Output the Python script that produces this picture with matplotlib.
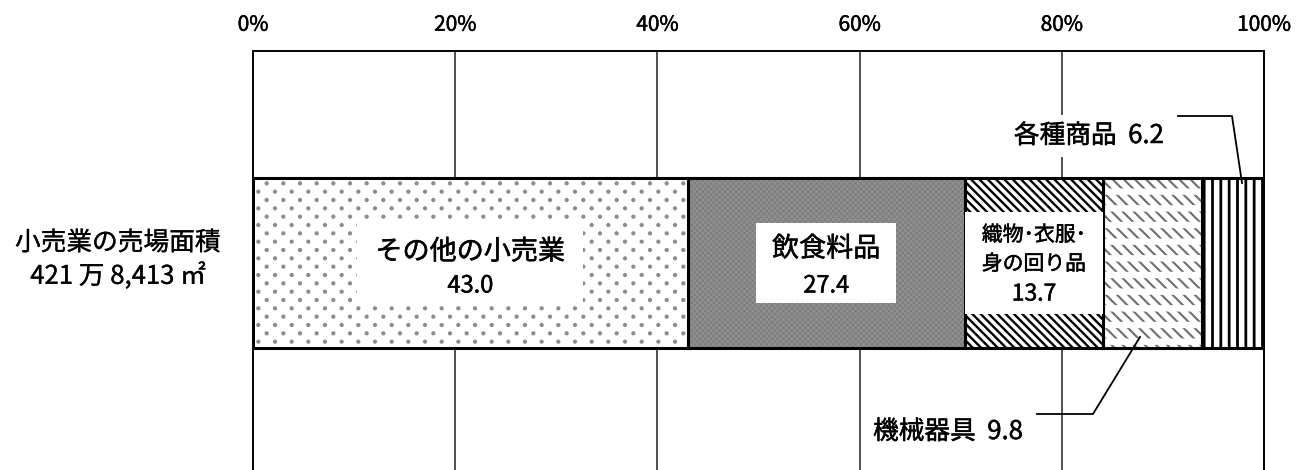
import matplotlib
matplotlib.use("Agg")
import numpy as np
import matplotlib.pyplot as plt
import matplotlib.hatch as mhatch
import matplotlib.patheffects as pe
from matplotlib.patches import Rectangle

plt.rcParams['font.family'] = ['Noto Sans CJK JP', 'DejaVu Sans']

# ---- data ----
categories = ["その他の小売業", "飲食料品", "織物･衣服･\n身の回り品", "機械器具", "各種商品"]
values = [43.0, 27.4, 13.7, 9.8, 6.2]
row_label = "小売業の売場面積\n421 万 8,413 ㎡"
xticks = [0, 20, 40, 60, 80, 100]
xtick_labels = ["0%", "20%", "40%", "60%", "80%", "100%"]


# ---- dotted texture: staggered dots, rows twice as dense as columns ----
class RowDots(mhatch.SmallFilledCircles):
    def __init__(self, hatch, density):
        super().__init__(hatch, density)
        n = self.num_rows
        if n:
            cnt = sum((n + 1) if r % 2 == 0 else n for r in range(2 * n + 1))
            self.num_vertices = cnt * len(self.shape_vertices)

    def set_vertices_and_codes(self, vertices, codes):
        n = self.num_rows
        offset = 1.0 / n
        sv = self.shape_vertices * offset * self.size * 0.85
        sc = self.shape_codes
        nv = len(sv)
        cur = 0
        for r in range(2 * n + 1):
            if r % 2 == 0:
                cols = np.linspace(0, 1, n + 1)
            else:
                cols = np.linspace(offset / 2, 1 - offset / 2, n)
            for c in cols:
                vertices[cur:cur + nv] = sv + (c, r * offset / 2)
                codes[cur:cur + nv] = sc
                cur += nv


mhatch._hatch_types = [RowDots if t is mhatch.SmallFilledCircles else t
                       for t in mhatch._hatch_types]

# ---- styles ----
face = ['white', '#909090', 'white', 'white', 'white']
hatch = ['.', 'xxxxxx', '\\\\\\\\', '\\\\\\', '||']
hcol = ['#8c8c8c', '#787878', 'black', '#6e6e6e', 'black']
hlw = [1.0, 0.5, 1.7, 1.5, 2.0]

W, H = 1302, 470
fig = plt.figure(figsize=(W / 100, H / 100), dpi=100)
ax_left, ax_right, ax_top, ax_bot = 253, 1264, 51, 470
ax = fig.add_axes([ax_left / W, 1 - ax_bot / H, (ax_right - ax_left) / W, (ax_bot - ax_top) / H])
ax.set_xlim(0, 100)
ax.set_ylim(ax_bot, ax_top)  # y in pixel rows

stroke = [pe.withStroke(linewidth=0.35, foreground='black')]

bar_y, bar_h = 263, 170
left = 0
lefts = []
for i, (v, fc, hp, hc, lw) in enumerate(zip(values, face, hatch, hcol, hlw)):
    with plt.rc_context({'hatch.linewidth': lw}):
        ax.barh(bar_y, v, left=left, height=bar_h, color=fc, hatch=hp,
                edgecolor=hc, linewidth=0, zorder=2)
    if i == 3:  # break diagonals into dashed rows
        with plt.rc_context({'hatch.linewidth': 4.6}):
            ax.barh(bar_y, v, left=left, height=bar_h, color='none', hatch='-',
                    edgecolor='white', linewidth=0, zorder=2.5)
    ax.barh(bar_y, v, left=left, height=bar_h, color='none', edgecolor='black',
            linewidth=2.2, zorder=3)
    lefts.append(left)
    left += v
centers = [l + v / 2 for l, v in zip(lefts, values)]

px = 100 / (ax_right - ax_left)  # % per pixel


def box(cx, w, y0, y1):
    ax.add_patch(Rectangle((cx - w / 2, y1), w, y0 - y1, facecolor='white',
                           edgecolor='none', zorder=4))


def txt(x, y, s, fs, **kw):
    return ax.text(x, y, s, ha='center', va='center', fontsize=fs, zorder=5,
                   path_effects=stroke, **kw)


box(centers[0], 226 * px, 223, 305)
txt(centers[0], 252, categories[0], 19.5)
txt(centers[0], 286, f"{values[0]:.1f}", 17)

box(centers[1], 140 * px, 223, 303)
txt(centers[1], 249, categories[1], 19.5)
txt(centers[1], 286, f"{values[1]:.1f}", 17)

box(centers[2], values[2], 212, 314)
l1, l2 = categories[2].split("\n")
txt(centers[2], 235, l1, 15)
txt(centers[2], 264, l2, 15)
txt(centers[2], 294, f"{values[2]:.1f}", 16.5)

# outside labels with leaders
txt((1089 - ax_left) * px, 136, f"{categories[4]}  {values[4]:.1f}", 18.5,
    bbox=dict(facecolor='white', edgecolor='none', pad=6))
ax.plot([(1178 - ax_left) * px, (1232 - ax_left) * px, (1242 - ax_left) * px],
        [116, 116, 183], color='black', lw=1.3, zorder=6, clip_on=False)

txt((948 - ax_left) * px, 432, f"{categories[3]}  {values[3]:.1f}", 18.5,
    bbox=dict(facecolor='white', edgecolor='none', pad=6))
ax.plot([(1037 - ax_left) * px, (1093 - ax_left) * px, (1140 - ax_left) * px],
        [414, 414, 337], color='black', lw=1.3, zorder=6, clip_on=False)

# row label
ax.text(-(ax_left - 118) * px, 260, row_label, ha='center', va='center', fontsize=18.5,
        linespacing=1.3, clip_on=False, path_effects=[pe.withStroke(linewidth=0.2, foreground='black')])

# axes styling
ax.set_xticks(xticks)
ax.set_xticklabels(xtick_labels, fontsize=15, path_effects=stroke)
ax.xaxis.tick_top()
ax.tick_params(axis='x', which='both', length=0, pad=11, top=True, bottom=False)
ax.set_yticks([])
ax.grid(axis='x', color='#333333', lw=1.2, zorder=1)
ax.set_axisbelow(True)
for s in ['top', 'left', 'right']:
    ax.spines[s].set_color('black')
    ax.spines[s].set_linewidth(1.4)
ax.spines['bottom'].set_visible(False)

fig.savefig("out.png", dpi=100)
